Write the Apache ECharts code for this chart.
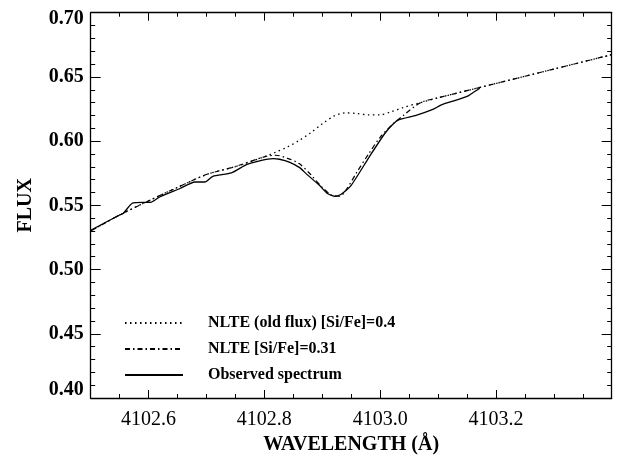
<!DOCTYPE html>
<html>
<head>
<meta charset="utf-8">
<script src="https://cdn.jsdelivr.net/npm/echarts@6/dist/echarts.min.js"></script>
<style>
  html, body { margin: 0; padding: 0; background: #fff; }
  #chart { width: 617px; height: 455px; }
</style>
</head>
<body>
<div id="chart"></div>
<script>
// model grid (Å) and fluxes
const modelWave = [4102.50, 4102.55, 4102.60, 4102.65, 4102.70, 4102.75, 4102.80, 4102.82, 4102.84, 4102.86, 4102.88, 4102.90, 4102.92, 4102.93, 4102.94, 4102.96, 4102.98, 4103.00, 4103.02, 4103.04, 4103.07, 4103.10, 4103.20, 4103.30, 4103.40]
const nlteFlux = [0.5300, 0.5425, 0.5535, 0.5640, 0.5740, 0.5802, 0.5878, 0.5890, 0.5866, 0.5825, 0.5740, 0.5640, 0.5573, 0.5571, 0.5612, 0.5760, 0.5900, 0.6030, 0.6125, 0.6200, 0.6300, 0.6337, 0.6449, 0.6561, 0.6673]
const oldFlux = [0.5300, 0.5425, 0.5535, 0.5640, 0.5740, 0.5802, 0.5878, 0.5915, 0.5955, 0.6005, 0.6065, 0.6135, 0.6195, 0.6212, 0.6220, 0.6215, 0.6205, 0.6205, 0.6230, 0.6262, 0.6300, 0.6337, 0.6449, 0.6561, 0.6673]

// observed spectrum
const obsWave = [4102.500, 4102.550, 4102.556, 4102.573, 4102.605, 4102.619, 4102.654, 4102.680, 4102.697, 4102.711, 4102.743, 4102.769, 4102.795, 4102.815, 4102.826, 4102.843, 4102.861, 4102.872, 4102.895, 4102.909, 4102.921, 4102.932, 4102.950, 4102.981, 4103.010, 4103.030, 4103.062, 4103.090, 4103.107, 4103.130, 4103.150, 4103.162, 4103.172]
const obsFlux = [0.5306, 0.5425, 0.5436, 0.5519, 0.5526, 0.5565, 0.5631, 0.5682, 0.5682, 0.5726, 0.5752, 0.5817, 0.5851, 0.5864, 0.5859, 0.5837, 0.5794, 0.5747, 0.5656, 0.5592, 0.5571, 0.5584, 0.5656, 0.5876, 0.6071, 0.6162, 0.6201, 0.6245, 0.6284, 0.6317, 0.6348, 0.6382, 0.6412]

const xLabels = [4102.6, 4102.8, 4103.0, 4103.2]
const seriesNames = ['NLTE (old flux) [Si/Fe]=0.4', 'NLTE [Si/Fe]=0.31', 'Observed spectrum']

const serif = "'Liberation Serif', 'Times New Roman', serif"
const zip = (xs, ys) => xs.map((x, i) => [x, ys[i]])

const xBase = { type: 'value', min: 4102.5, max: 4103.4, gridIndex: 0, splitLine: { show: false } }
const yBase = { type: 'value', min: 0.40, max: 0.70, interval: 0.05, gridIndex: 0, splitLine: { show: false } }
const axisLine = { show: true, lineStyle: { color: '#000', width: 1.3 } }
const yFont = { fontFamily: serif, fontWeight: 'bold', fontSize: 20, color: '#000' }

// IDL pulls the end labels inwards a little
function yLabel(v) {
  const s = v.toFixed(2)
  if (Math.abs(v - 0.70) < 1e-6) return '{top|' + s + '}'
  if (Math.abs(v - 0.40) < 1e-6) return '{bot|' + s + '}'
  return s
}

const option = {
  backgroundColor: '#fff',
  animation: false,
  grid: { left: 90.7, right: 5.3, top: 12.7, bottom: 57, outerBoundsMode: 'none' },
  legend: {
    orient: 'vertical', left: 119, top: 310,
    itemWidth: 58, itemHeight: 14, itemGap: 10,
    data: seriesNames,
    itemStyle: { opacity: 0 },
    textStyle: { fontFamily: serif, fontWeight: 'bold', fontSize: 16, color: '#000', padding: [0, 0, 0, 20] }
  },
  xAxis: [
    { ...xBase, position: 'bottom', interval: 0.05, axisLine,
      axisTick: { inside: true, length: 4, lineStyle: { color: '#000' } },
      axisLabel: { customValues: xLabels, formatter: v => v.toFixed(1), margin: 12, color: '#000', fontFamily: serif, fontSize: 20 },
      name: 'WAVELENGTH (Å)', nameLocation: 'middle', nameGap: 32,
      nameTextStyle: { fontFamily: serif, fontWeight: 'bold', fontSize: 20, color: '#000' } },
    { ...xBase, position: 'bottom', axisLine: { show: false }, axisLabel: { show: false },
      axisTick: { inside: true, length: 8, customValues: xLabels, lineStyle: { color: '#000' } } },
    { ...xBase, position: 'top', interval: 0.05, axisLine, axisLabel: { show: false },
      axisTick: { inside: true, length: 4, lineStyle: { color: '#000' } } },
    { ...xBase, position: 'top', axisLine: { show: false }, axisLabel: { show: false },
      axisTick: { inside: true, length: 8, customValues: xLabels, lineStyle: { color: '#000' } } }
  ],
  yAxis: [
    { ...yBase, position: 'left', axisLine,
      axisTick: { inside: true, length: 10, lineStyle: { color: '#000' } },
      minorTick: { show: true, splitNumber: 5, length: 4.5, lineStyle: { color: '#000' } },
      axisLabel: { formatter: yLabel, margin: 7, ...yFont,
        rich: { top: { ...yFont, padding: [13, 0, 0, 0] }, bot: { ...yFont, padding: [0, 0, 17, 0] } } },
      name: 'FLUX', nameLocation: 'middle', nameGap: 55, nameRotate: 90,
      nameTextStyle: { ...yFont } },
    { ...yBase, position: 'right', axisLine, axisLabel: { show: false },
      axisTick: { inside: true, length: 10, lineStyle: { color: '#000' } },
      minorTick: { show: true, splitNumber: 5, length: 4.5, lineStyle: { color: '#000' } } }
  ],
  series: [
    { name: seriesNames[0], type: 'line', data: zip(modelWave, oldFlux), symbol: 'none', smooth: 0.3,
      lineStyle: { color: '#000', width: 1.3, type: [1.5, 3.5] }, itemStyle: { color: '#000' } },
    { name: seriesNames[1], type: 'line', data: zip(modelWave, nlteFlux), symbol: 'none', smooth: 0.3,
      lineStyle: { color: '#000', width: 1.2, type: [5, 3, 1.5, 3] }, itemStyle: { color: '#000' } },
    { name: seriesNames[2], type: 'line', data: zip(obsWave, obsFlux), symbol: 'none', smooth: 0.2,
      lineStyle: { color: '#000', width: 1.3 }, itemStyle: { color: '#000' } }
  ]
}

const chart = echarts.init(document.getElementById('chart'))
chart.setOption(option)
</script>
</body>
</html>
